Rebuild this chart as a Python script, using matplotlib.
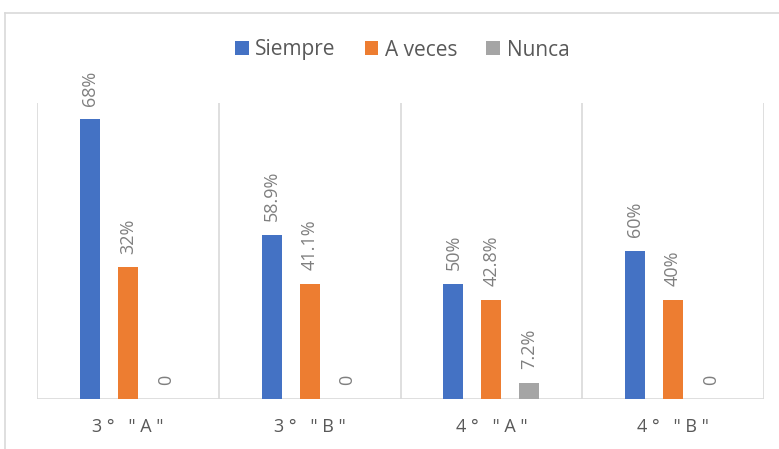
import matplotlib.pyplot as plt
import numpy as np

categories = ['3 °   " A "', '3 °   " B "', '4 °   " A "', '4 °   " B "']
series_names = ["Siempre", "A veces", "Nunca"]
# bar heights (counts) and the percentage labels printed on them
siempre = [17, 10, 7, 9]
a_veces = [8, 7, 6, 6]
nunca = [0, 0, 1, 0]
siempre_labels = ["68%", "58.9%", "50%", "60%"]
a_veces_labels = ["32%", "41.1%", "42.8%", "40%"]
nunca_labels = ["0", "0", "7.2%", "0"]

colors = ["#4472c4", "#ed7d31", "#a5a5a5"]
text_color = "#595959"
grid_color = "#d9d9d9"

plt.rcParams['font.family'] = ['Open Sans', 'DejaVu Sans']

fig = plt.figure(figsize=(7.79, 4.49), dpi=100)
ax = fig.add_axes([37 / 779, 50 / 449, 727 / 779, 296 / 449])

x = np.arange(len(categories))
width = 0.11
offsets = [-0.209, 0, 0.209]
values = [siempre, a_veces, nunca]
labels = [siempre_labels, a_veces_labels, nunca_labels]

for i in range(3):
    bars = ax.bar(x + offsets[i], values[i], width, color=colors[i],
                  label=series_names[i], zorder=3)
    for b, lab in zip(bars, labels[i]):
        ax.annotate(lab, (b.get_x() + b.get_width() / 2, b.get_height()),
                    xytext=(0, 10), textcoords='offset points',
                    rotation=90, ha='center', va='bottom',
                    fontsize=13, color='#7f7f7f')

# category separators
for xv in np.arange(-0.5, len(categories), 1):
    ax.axvline(xv, color=grid_color, lw=1.2, zorder=1)
ax.axhline(0, color=grid_color, lw=1.2, zorder=2)

ax.set_xlim(-0.5, len(categories) - 0.5)
ax.set_ylim(0, 18)
ax.set_xticks(x)
ax.set_xticklabels(categories, fontsize=13, color=text_color)
ax.tick_params(axis='x', length=0, pad=14)
ax.set_yticks([])
for s in ax.spines.values():
    s.set_visible(False)

# outer chart border (only top and left visible in the crop)
fig.add_artist(plt.Line2D([5 / 779, 1], [1 - 13 / 449, 1 - 13 / 449],
                          color=grid_color, lw=1.2))
fig.add_artist(plt.Line2D([5 / 779, 5 / 779], [0, 1 - 13 / 449],
                          color=grid_color, lw=1.2))

leg = fig.legend(loc='center', bbox_to_anchor=(402 / 779, 1 - 50 / 449),
                 ncol=3, frameon=False, fontsize=15, handlelength=0.67,
                 handleheight=0.67, handletextpad=0.3, columnspacing=1.4)
for t in leg.get_texts():
    t.set_color(text_color)

fig.savefig("out.png", dpi=100)
